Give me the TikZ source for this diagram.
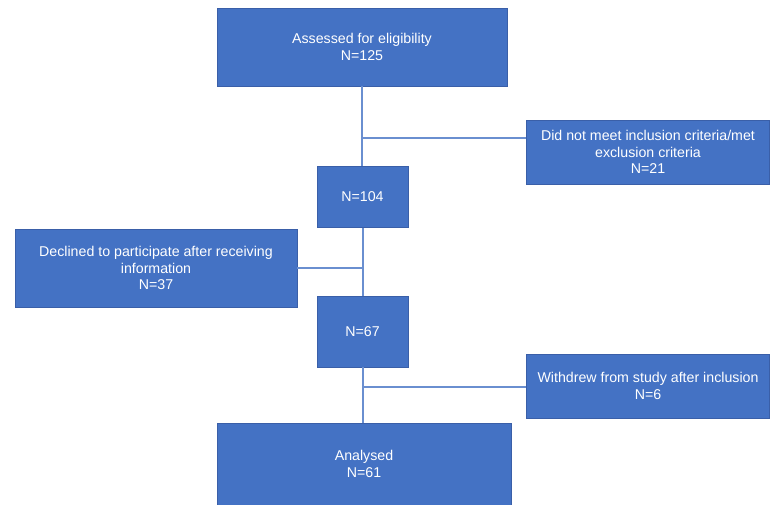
\documentclass[tikz,border=0pt]{standalone}
\usepackage{fontspec}
\setmainfont{Liberation Sans}
\definecolor{boxfill}{HTML}{4472C4}
\definecolor{boxedge}{HTML}{3A5FA8}
\definecolor{linkcol}{HTML}{6A8FD0}
\begin{document}
\begin{tikzpicture}[x=1pt,y=1pt,
  flowbox/.style={draw=boxedge, line width=0.9pt, fill=boxfill, text=white,
    align=center, inner sep=2pt, font=\fontsize{14.2}{16.5}\selectfont},
  link/.style={draw=linkcol, line width=1.1pt}]
\useasboundingbox (0,0) rectangle (770,-505);
\node[flowbox, minimum width=290, minimum height=78] (A) at (362,-47) {Assessed for eligibility\\N=125};
\node[flowbox, minimum width=243, minimum height=64] (B) at (648,-152) {Did not meet inclusion criteria/met\\exclusion criteria\\N=21};
\node[flowbox, minimum width=91, minimum height=61] (C) at (362.5,-197) {N=104};
\node[flowbox, minimum width=282, minimum height=78] (D) at (156,-268) {Declined to participate after receiving\\information\\N=37};
\node[flowbox, minimum width=91, minimum height=71] (E) at (362.5,-331.5) {N=67};
\node[flowbox, minimum width=243, minimum height=64] (F) at (648,-386) {Withdrew from study after inclusion\\N=6};
\node[flowbox, minimum width=294, minimum height=82] (G) at (364,-464) {Analysed\\N=61};
\coordinate (j1) at (362,-138);
\coordinate (j2) at (363,-268);
\coordinate (j3) at (363,-387);
\draw[link] (A.south -| j1) -- (C.north -| j1);
\draw[link] (j1) -- (j1 -| B.west);
\draw[link] (C.south -| j2) -- (E.north -| j2);
\draw[link] (j2) -- (j2 -| D.east);
\draw[link] (E.south -| j3) -- (G.north -| j3);
\draw[link] (j3) -- (j3 -| F.west);
\end{tikzpicture}
\end{document}
